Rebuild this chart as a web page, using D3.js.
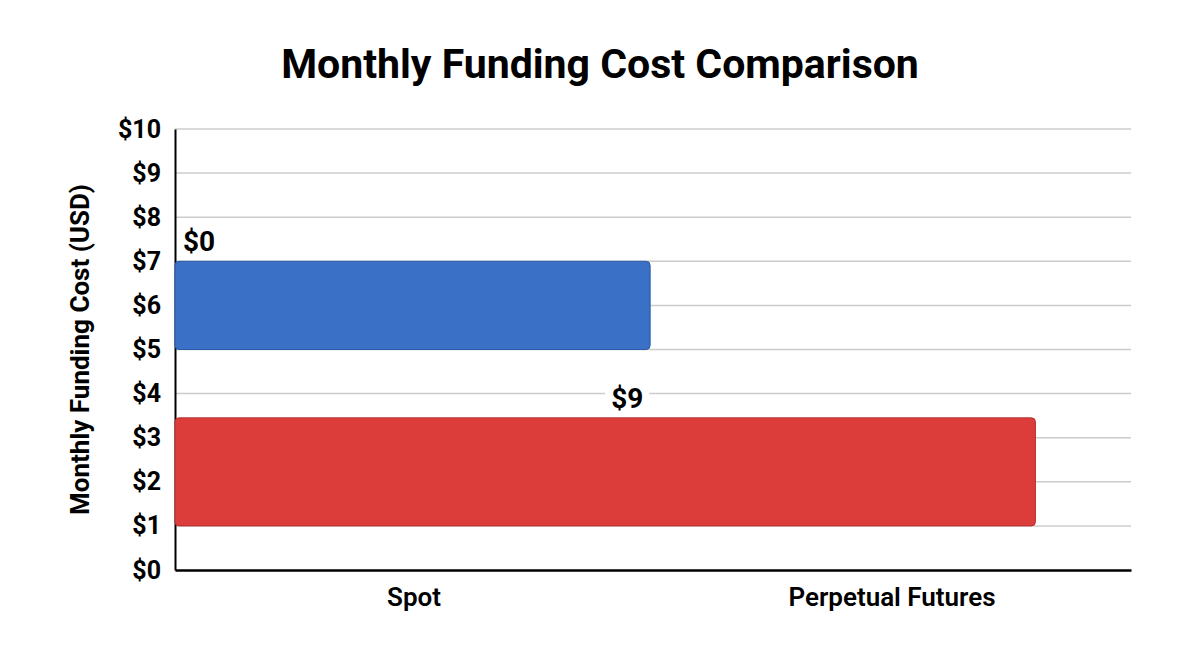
<!DOCTYPE html>
<html>
<head>
<meta charset="utf-8">
<script src="https://cdn.jsdelivr.net/npm/d3@7"></script>
<style>
  body { margin: 0; background: #fff; }
  text { font-family: Roboto, "Noto Sans", sans-serif; }
</style>
</head>
<body>
<div id="chart"></div>
<script>
// values
const categories = ["Spot", "Perpetual Futures"]
const valueLabels = ["$0", "$9"]
const barLength = [4.97, 9]       // horizontal extent on a 0-10 scale
const barBottom = [5, 1]          // dollars on the y axis
const barTop = [7, 3.45]
const barColors = ["#3a70c6", "#dc3d3b"]
const barStroke = ["#2a5aa8", "#b3302e"]
const yTicks = d3.range(0, 11)

function drawChart() {
    const width = 1200
    const height = 670
    const margin = { top: 129, right: 69, bottom: 100, left: 175 }
    const boundedWidth = width - margin.left - margin.right
    const boundedHeight = height - margin.top - margin.bottom

    const svg = d3.select("#chart").append("svg")
        .attr("width", width)
        .attr("height", height)

    const chart = svg.append("g")
        .attr("transform", `translate(${margin.left},${margin.top})`)

    const yScale = d3.scaleLinear().domain([0, 10]).range([boundedHeight, 0])
    const xScale = d3.scaleLinear().domain([0, 10]).range([0, boundedWidth])
    const catScale = d3.scaleBand().domain(categories).range([0, boundedWidth])

    // gridlines
    chart.append("g")
        .selectAll("line")
        .data(yTicks.filter(d => d > 0))
        .join("line")
        .attr("x1", 0)
        .attr("x2", boundedWidth)
        .attr("y1", d => yScale(d))
        .attr("y2", d => yScale(d))
        .attr("stroke", "#cccccc")
        .attr("stroke-width", 1.5)

    // y axis
    const yAxis = chart.append("g")
        .call(d3.axisLeft(yScale).tickValues(yTicks).tickFormat(d => "$" + d).tickSize(0).tickPadding(14))
    yAxis.select(".domain").attr("stroke", "#000").attr("stroke-width", 2)
    yAxis.selectAll("text")
        .attr("font-size", 25)
        .attr("font-weight", "bold")
        .attr("fill", "#000")

    // x axis
    const xAxis = chart.append("g")
        .attr("transform", `translate(0,${boundedHeight})`)
        .call(d3.axisBottom(catScale).tickSize(0).tickPadding(18))
    xAxis.select(".domain").attr("stroke", "#000").attr("stroke-width", 2.5)
    xAxis.selectAll("text")
        .attr("font-size", 26)
        .attr("font-weight", 600)
        .attr("fill", "#000")

    // bars
    const bars = categories.map((c, i) => ({
        name: c, label: valueLabels[i], len: barLength[i],
        lo: barBottom[i], hi: barTop[i], color: barColors[i], stroke: barStroke[i]
    }))

    chart.selectAll(".bar")
        .data(bars)
        .join("rect")
        .attr("class", "bar")
        .attr("x", 0)
        .attr("y", d => yScale(d.hi))
        .attr("width", d => xScale(d.len))
        .attr("height", d => yScale(d.lo) - yScale(d.hi))
        .attr("rx", 4)
        .attr("fill", d => d.color)
        .attr("stroke", d => d.stroke)
        .attr("stroke-width", 1)

    // value labels: first one sits at the bar start, second one near the bar middle
    const labels = chart.selectAll(".value-label")
        .data(bars)
        .join("g")
        .attr("class", "value-label")
        .attr("transform", (d, i) => {
            const x = i === 0 ? 8 : xScale(d.len) / 2 + 22
            return `translate(${x},${yScale(d.hi) - 10})`
        })

    labels.append("text")
        .attr("text-anchor", (d, i) => i === 0 ? "start" : "middle")
        .attr("font-size", 28)
        .attr("font-weight", "bold")
        .attr("fill", "#000")
        .text(d => d.label)

    labels.each(function() {
        const g = d3.select(this)
        const box = g.select("text").node().getBBox()
        g.insert("rect", "text")
            .attr("x", box.x - 6)
            .attr("y", box.y)
            .attr("width", box.width + 12)
            .attr("height", box.height)
            .attr("fill", "#fff")
    })

    // title
    svg.append("text")
        .attr("x", width / 2)
        .attr("y", 78)
        .attr("text-anchor", "middle")
        .attr("font-size", 41)
        .attr("font-weight", "bold")
        .attr("fill", "#000")
        .text("Monthly Funding Cost Comparison")

    // y axis title
    svg.append("text")
        .attr("transform", `translate(89,${margin.top + yScale(5)}) rotate(-90)`)
        .attr("text-anchor", "middle")
        .attr("font-size", 26)
        .attr("font-weight", "bold")
        .attr("fill", "#000")
        .text("Monthly Funding Cost (USD)")
}

drawChart()
</script>
</body>
</html>
